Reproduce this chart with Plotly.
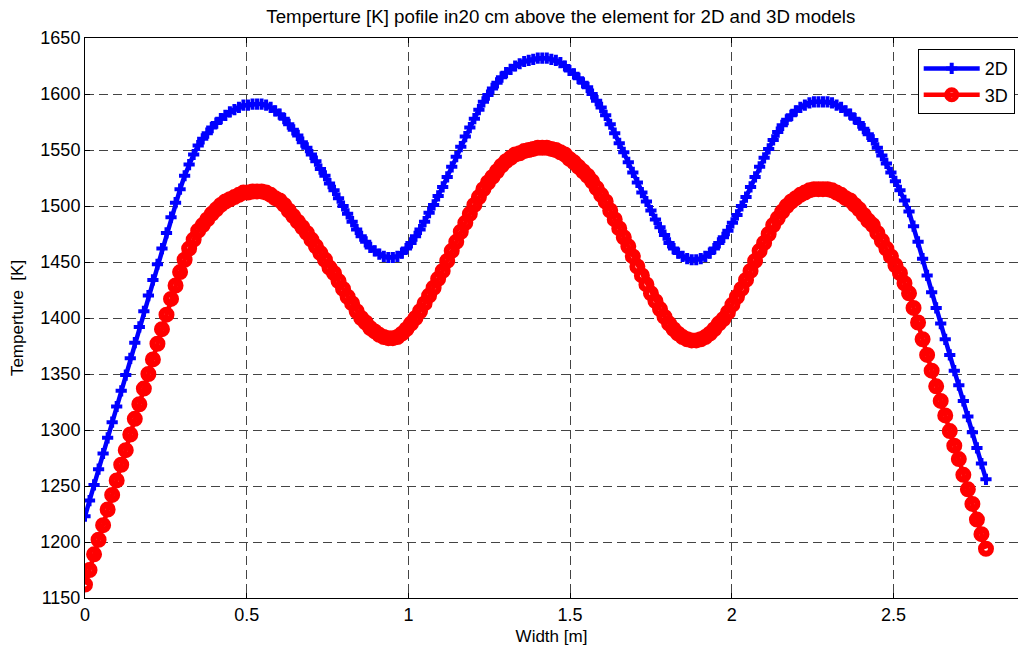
import numpy as np
import plotly.graph_objects as go

# Sample positions across the element width [m]
width_m = np.linspace(0.0, 2.786, 200)

# Temperature profile, 2D model [K]
temp_2d = [
    1223, 1237, 1251, 1265, 1279, 1293, 1307, 1321, 1335, 1349,
    1364, 1378, 1392, 1406, 1420, 1434, 1448, 1462, 1476, 1490,
    1503, 1515, 1527, 1537, 1546, 1554, 1560, 1565, 1570, 1574,
    1578, 1581, 1584, 1586, 1588, 1590, 1590, 1591, 1591, 1591,
    1590, 1588, 1585, 1582, 1578, 1573, 1568, 1563, 1557, 1552,
    1546, 1540, 1533, 1527, 1520, 1514, 1507, 1500, 1493, 1486,
    1479, 1473, 1468, 1463, 1460, 1457, 1455, 1454, 1454, 1455,
    1458, 1462, 1467, 1473, 1479, 1486, 1494, 1501, 1509, 1517,
    1526, 1535, 1544, 1553, 1562, 1570, 1578, 1586, 1593, 1599,
    1605, 1610, 1615, 1619, 1622, 1625, 1627, 1629, 1630, 1631,
    1632, 1632, 1632, 1631, 1630, 1628, 1625, 1621, 1618, 1614,
    1610, 1606, 1600, 1594, 1588, 1581, 1573, 1565, 1556, 1548,
    1539, 1530, 1521, 1512, 1504, 1496, 1488, 1481, 1474, 1467,
    1462, 1458, 1455, 1453, 1452, 1452, 1453, 1455, 1458, 1462,
    1467, 1472, 1478, 1485, 1492, 1500, 1508, 1517, 1526, 1535,
    1543, 1551, 1559, 1566, 1572, 1577, 1581, 1585, 1588, 1590,
    1592, 1593, 1593, 1593, 1593, 1592, 1590, 1588, 1585, 1582,
    1578, 1574, 1569, 1564, 1559, 1552, 1545, 1538, 1530, 1522,
    1514, 1505, 1495, 1482, 1468, 1453, 1438, 1423, 1409, 1395,
    1381, 1367, 1353, 1340, 1326, 1312, 1298, 1284, 1270, 1256,
]

# Temperature profile, 3D model [K]
temp_3d = [
    1162, 1175, 1189, 1202, 1215, 1229, 1242, 1255, 1269, 1282,
    1296, 1310, 1323, 1337, 1350, 1363, 1377, 1390, 1403, 1417,
    1429, 1441, 1452, 1462, 1470, 1478, 1483, 1488, 1493, 1497,
    1501, 1504, 1506, 1508, 1510, 1512, 1512, 1513, 1513, 1513,
    1512, 1510, 1507, 1505, 1501, 1496, 1491, 1486, 1481, 1476,
    1470, 1464, 1458, 1452, 1445, 1440, 1433, 1426, 1419, 1413,
    1406, 1400, 1396, 1391, 1388, 1385, 1383, 1382, 1382, 1383,
    1386, 1390, 1395, 1400, 1406, 1413, 1420, 1427, 1435, 1442,
    1451, 1460, 1468, 1477, 1485, 1493, 1501, 1508, 1515, 1521,
    1526, 1531, 1536, 1540, 1543, 1546, 1547, 1549, 1550, 1551,
    1552, 1552, 1552, 1551, 1550, 1548, 1546, 1542, 1539, 1535,
    1531, 1527, 1522, 1516, 1510, 1504, 1496, 1488, 1480, 1472,
    1464, 1455, 1446, 1438, 1430, 1422, 1415, 1408, 1401, 1395,
    1390, 1386, 1383, 1381, 1380, 1380, 1381, 1383, 1386, 1390,
    1395, 1399, 1405, 1412, 1419, 1426, 1434, 1442, 1451, 1460,
    1467, 1475, 1483, 1489, 1495, 1500, 1504, 1507, 1510, 1512,
    1514, 1515, 1515, 1515, 1515, 1514, 1512, 1510, 1507, 1505,
    1501, 1497, 1492, 1487, 1483, 1476, 1469, 1462, 1455, 1447,
    1440, 1431, 1422, 1409, 1396, 1381, 1367, 1353, 1339, 1326,
    1313, 1299, 1286, 1274, 1260, 1247, 1234, 1220, 1207, 1194,
]

x_ticks = [0, 0.5, 1, 1.5, 2, 2.5]
x_tick_labels = ["0", "0.5", "1", "1.5", "2", "2.5"]
y_ticks = [1150, 1200, 1250, 1300, 1350, 1400, 1450, 1500, 1550, 1600, 1650]

BLUE = "#0000ff"
RED = "#ff0000"
GRID = "#444444"
FONT = "Liberation Sans, Arial, Helvetica, sans-serif"

fig = go.Figure()

fig.add_trace(go.Scatter(
    x=width_m, y=temp_2d, mode="lines+markers", name="2D",
    line=dict(color=BLUE, width=4.5),
    marker=dict(symbol="cross-thin-open", size=8, color=BLUE,
                line=dict(color=BLUE, width=4)),
))

fig.add_trace(go.Scatter(
    x=width_m, y=temp_3d, mode="lines+markers", name="3D",
    line=dict(color=RED, width=4.5),
    marker=dict(symbol="circle-open", size=10, color=RED,
                line=dict(color=RED, width=6)),
))

fig.update_layout(
    width=1018, height=652,
    margin=dict(l=85, r=0, t=38, b=54),
    paper_bgcolor="white", plot_bgcolor="white",
    font=dict(family=FONT, size=18, color="black"),
    title=dict(
        text="Temperture [K] pofile in20 cm above the element for 2D and 3D models",
        font=dict(family=FONT, size=18.7, color="black"),
        x=0.510, xref="paper", xanchor="center",
        y=1 - 16 / 652, yref="container", yanchor="middle",
    ),
    showlegend=True,
    legend=dict(
        x=0.8925, y=0.980, xanchor="left", yanchor="top",
        bgcolor="white", bordercolor="black", borderwidth=1,
        font=dict(family=FONT, size=18, color="black"),
        tracegroupgap=0, itemwidth=56,
    ),
    xaxis=dict(
        range=[0, 2.885],
        tickmode="array", tickvals=x_ticks, ticktext=x_tick_labels,
        ticks="inside", ticklen=5, tickcolor="black",
        showline=True, linecolor="black", linewidth=1, mirror="ticks",
        showgrid=True, gridcolor=GRID, gridwidth=1, griddash="9px,5px",
        zeroline=False,
        title=dict(text="Width [m]", font=dict(family=FONT, size=17), standoff=6),
    ),
    yaxis=dict(
        range=[1150, 1650],
        tickmode="array", tickvals=y_ticks,
        ticks="inside", ticklen=5, tickcolor="black",
        showline=True, linecolor="black", linewidth=1, mirror=False,
        showgrid=True, gridcolor=GRID, gridwidth=1, griddash="9px,5px",
        zeroline=False,
        title=dict(text="Temperture\u00a0 [K]", font=dict(family=FONT, size=17), standoff=12),
    ),
)

fig.write_html("out.html")
